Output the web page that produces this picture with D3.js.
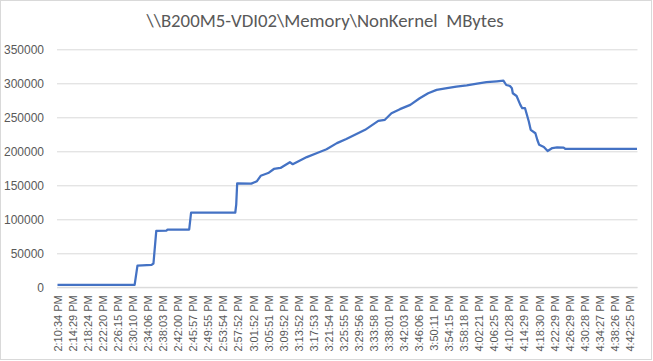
<!DOCTYPE html>
<html>
<head>
<meta charset="utf-8">
<script src="https://cdn.jsdelivr.net/npm/d3@7"></script>
<style>
  html, body { margin: 0; padding: 0; background: #fff; }
  svg { display: block; font-family: Carlito, Calibri, Lato, sans-serif; }
</style>
</head>
<body>
<svg id="chart" width="653" height="361"></svg>
<script>
const chartTitle = "\\\\B200M5-VDI02\\Memory\\NonKernel  MBytes";

const timeLabels = [
  "2:10:34 PM","2:14:29 PM","2:18:24 PM","2:22:20 PM","2:26:15 PM","2:30:10 PM",
  "2:34:06 PM","2:38:03 PM","2:42:00 PM","2:45:57 PM","2:49:55 PM","2:53:54 PM",
  "2:57:52 PM","3:01:52 PM","3:05:51 PM","3:09:52 PM","3:13:52 PM","3:17:53 PM",
  "3:21:54 PM","3:25:55 PM","3:29:56 PM","3:33:58 PM","3:38:01 PM","3:42:03 PM",
  "3:46:06 PM","3:50:11 PM","3:54:15 PM","3:58:18 PM","4:02:21 PM","4:06:25 PM",
  "4:10:28 PM","4:14:29 PM","4:18:30 PM","4:22:29 PM","4:26:29 PM","4:30:28 PM",
  "4:34:27 PM","4:38:26 PM","4:42:25 PM"
];
const labelStep = 16;          // one label every 16 samples
const sampleCount = 617;

const yTicks = [0, 50000, 100000, 150000, 200000, 250000, 300000, 350000];

// sample index of each reading
const sampleIndex = [
  0, 82, 85, 100, 102, 105, 116, 117, 140, 142, 189, 190, 191,
  206, 212, 216, 224, 230, 237, 247, 250, 265, 276, 286, 297, 307,
  327, 341, 348, 355, 364, 375, 385, 394, 403, 414, 424, 435, 446,
  456, 467, 474, 477, 481, 483, 484, 488, 492, 494, 497, 501, 503,
  508, 510, 512, 517, 521, 526, 531, 538, 540, 616
];
// NonKernel MBytes at those samples
const memValues = [
  3500, 3500, 32000, 33000, 35000, 83000, 83500, 85000, 85000, 110000, 110000, 122000, 153000,
  152500, 156000, 164000, 168000, 174000, 175500, 184000, 181000, 191500, 197500, 203000, 212000, 218000,
  231600, 244800, 246300, 256000, 262000, 268300, 278000, 285400, 290300, 292800, 295100, 297100, 299500,
  301600, 303000, 304000, 297500, 296000, 292800, 285400, 281300, 268300, 263400, 263400, 243800, 231600,
  226500, 217000, 209600, 206300, 200400, 204800, 205600, 205300, 203400, 203400
];

const svg = d3.select("#chart");

// chart border
svg.append("rect")
  .attr("x", 0.5).attr("y", 0.5).attr("width", 651).attr("height", 359)
  .attr("fill", "#fff").attr("stroke", "#d9d9d9");

const plotL = 57, plotR = 637.5, plotT = 49.3, plotB = 287.3;

const x = d3.scaleLinear().domain([0, sampleCount - 1]).range([plotL + 0.5, plotR - 0.5]);
const y = d3.scaleLinear().domain([0, 350000]).range([plotB, plotT]);

// title
svg.append("text")
  .attr("x", 325).attr("y", 27)
  .attr("text-anchor", "middle")
  .attr("fill", "#595959")
  .style("font-size", "18.8px")
  .style("white-space", "pre")
  .text(chartTitle);

// y axis with gridlines
const yAxis = svg.append("g")
  .attr("transform", `translate(${plotL},0)`)
  .call(d3.axisLeft(y).tickValues(yTicks).tickFormat(d3.format("d"))
        .tickSizeInner(-(plotR - plotL)).tickSizeOuter(0).tickPadding(13));
yAxis.select(".domain").remove();
yAxis.selectAll(".tick line").attr("stroke", "#d9d9d9").attr("stroke-width", 1);
yAxis.selectAll(".tick text").attr("fill", "#595959").style("font-size", "12px");

// x axis
const tickIdx = timeLabels.map((_, i) => i * labelStep);
const xAxis = svg.append("g")
  .attr("transform", `translate(0,${plotB})`)
  .call(d3.axisBottom(x).tickValues(tickIdx)
        .tickFormat((d, i) => timeLabels[i]).tickSize(0));
xAxis.select(".domain").attr("stroke", "#d9d9d9").attr("d", `M${plotL},0H${plotR}`);
xAxis.selectAll(".tick text")
  .attr("fill", "#595959")
  .style("font-size", "11px")
  .attr("transform", "rotate(-90)")
  .attr("x", -8).attr("y", 0).attr("dy", "0.35em")
  .style("text-anchor", "end");

// series line
const pts = sampleIndex.map((s, i) => [s, memValues[i]]);
svg.append("path")
  .datum(pts)
  .attr("fill", "none")
  .attr("stroke", "#4472c4")
  .attr("stroke-width", 2.25)
  .attr("stroke-linejoin", "round")
  .attr("d", d3.line().x(d => x(d[0])).y(d => y(d[1])));
</script>
</body>
</html>
